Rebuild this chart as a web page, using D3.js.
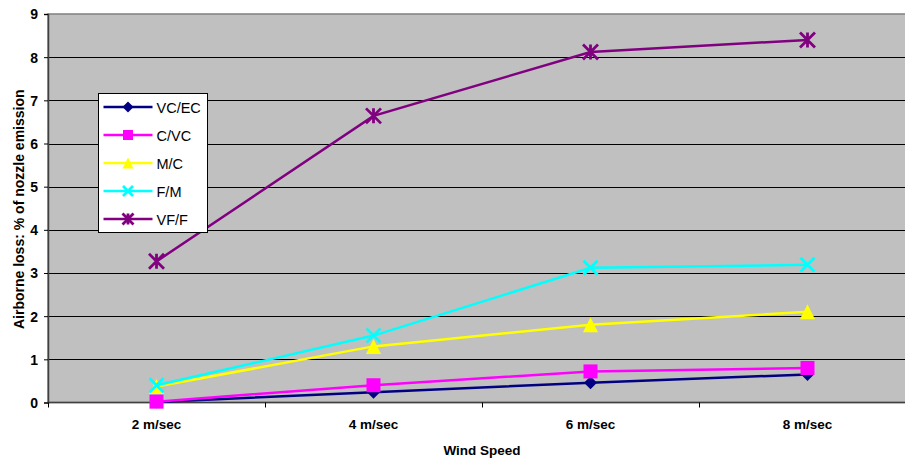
<!DOCTYPE html>
<html>
<head>
<meta charset="utf-8">
<script src="https://cdn.jsdelivr.net/npm/d3@7"></script>
<style>
  html, body { margin: 0; padding: 0; background: #fff; }
  svg { display: block; font-family: Arial, "Liberation Sans", sans-serif; }
</style>
</head>
<body>
<svg id="chart" width="905" height="459"></svg>
<script>
// Wind speed categories and airborne loss (% of nozzle emission) per droplet class
const categories = ["2 m/sec", "4 m/sec", "6 m/sec", "8 m/sec"];
const vcEc = [0.01, 0.24, 0.46, 0.65];
const cVc  = [0.02, 0.40, 0.72, 0.80];
const mC   = [0.37, 1.30, 1.80, 2.10];
const fM   = [0.40, 1.55, 3.12, 3.19];
const vfF  = [3.27, 6.64, 8.12, 8.40];
const yTicks = [0, 1, 2, 3, 4, 5, 6, 7, 8, 9];

const series = [
  { name: "VC/EC", values: vcEc, color: "#000080", marker: "diamond" },
  { name: "C/VC",  values: cVc,  color: "#ff00ff", marker: "square" },
  { name: "M/C",   values: mC,   color: "#ffff00", marker: "triangle" },
  { name: "F/M",   values: fM,   color: "#00ffff", marker: "cross" },
  { name: "VF/F",  values: vfF,  color: "#800080", marker: "star" }
];

const svg = d3.select("#chart");
const plot = { left: 48, right: 916, top: 14, bottom: 402.5 };

const x = d3.scaleBand().domain(categories).range([plot.left, plot.right]).padding(0);
const y = d3.scaleLinear().domain([0, 9]).range([plot.bottom, plot.top]);
const cx = c => x(c) + x.bandwidth() / 2;

// plot background
svg.append("rect")
  .attr("x", plot.left).attr("y", plot.top)
  .attr("width", plot.right - plot.left).attr("height", plot.bottom - plot.top)
  .attr("fill", "#c0c0c0").attr("stroke", "#808080").attr("stroke-width", 1.5);

// horizontal gridlines
svg.append("g").selectAll("line")
  .data(yTicks.filter(t => t > 0 && t < 9))
  .join("line")
  .attr("x1", plot.left).attr("x2", plot.right)
  .attr("y1", d => Math.round(y(d)) + 0.5).attr("y2", d => Math.round(y(d)) + 0.5)
  .attr("stroke", "#000").attr("stroke-width", 1);

// y axis
const yAxis = svg.append("g")
  .attr("transform", `translate(${plot.left},0)`)
  .call(d3.axisLeft(y).tickValues(yTicks).tickSize(4).tickPadding(6).tickFormat(d3.format("d")));
yAxis.attr("font-size", null).attr("font-family", null);
yAxis.select(".domain").attr("stroke", "#404040").attr("stroke-width", 1.5);
yAxis.selectAll(".tick line").attr("stroke", "#000");
yAxis.selectAll("text")
  .style("font-size", "14px").style("font-weight", "bold").attr("fill", "#000")
  .attr("dy", "0.35em");

// x axis: tick marks at category boundaries, labels centred in each band
const xg = svg.append("g");
xg.append("line")
  .attr("x1", plot.left).attr("x2", plot.right)
  .attr("y1", plot.bottom).attr("y2", plot.bottom)
  .attr("stroke", "#404040").attr("stroke-width", 1.5);
const bounds = categories.map(c => x(c)).concat([plot.right]);
xg.selectAll("line.tick").data(bounds).join("line")
  .attr("class", "tick")
  .attr("x1", d => Math.round(d) + 0.5).attr("x2", d => Math.round(d) + 0.5)
  .attr("y1", plot.bottom).attr("y2", plot.bottom + 5)
  .attr("stroke", "#000");
xg.selectAll("text").data(categories).join("text")
  .attr("x", d => cx(d)).attr("y", 429)
  .attr("text-anchor", "middle")
  .style("font-size", "13.5px").style("font-weight", "bold")
  .text(d => d);

// axis titles
svg.append("text")
  .attr("x", (plot.left + plot.right) / 2).attr("y", 455)
  .attr("text-anchor", "middle").style("font-size", "13.5px").style("font-weight", "bold")
  .text("Wind Speed");
svg.append("text")
  .attr("transform", `translate(24,${(plot.top + plot.bottom) / 2 + 1}) rotate(-90)`)
  .attr("text-anchor", "middle").style("font-size", "14px").style("font-weight", "bold")
  .text("Airborne loss: % of nozzle emission");

// marker drawing
function drawMarker(g, type, color, s) {
  const h = s / 2;
  if (type === "diamond") {
    g.append("path").attr("d", `M0,${-h}L${h},0L0,${h}L${-h},0Z`).attr("fill", color);
  } else if (type === "square") {
    g.append("rect").attr("x", -h).attr("y", -h).attr("width", s).attr("height", s).attr("fill", color);
  } else if (type === "triangle") {
    g.append("path").attr("d", `M0,${-h}L${h},${h}L${-h},${h}Z`).attr("fill", color);
  } else if (type === "cross") {
    g.append("path").attr("d", `M${-h},${-h}L${h},${h}M${h},${-h}L${-h},${h}`)
      .attr("stroke", color).attr("stroke-width", 2.8).attr("fill", "none");
  } else if (type === "star") {
    g.append("path").attr("d", `M${-h},${-h}L${h},${h}M${h},${-h}L${-h},${h}M0,${-h}L0,${h}`)
      .attr("stroke", color).attr("stroke-width", 2.8).attr("fill", "none");
  }
}

const markerSize = { diamond: 13, square: 14, triangle: 15, cross: 14, star: 15 };
const line = d3.line().x((d, i) => cx(categories[i])).y(d => y(d));

const clip = svg.append("defs").append("clipPath").attr("id", "plotclip");
clip.append("rect").attr("x", 0).attr("y", 0).attr("width", 905).attr("height", 459);

series.forEach(s => {
  const g = svg.append("g").attr("clip-path", "url(#plotclip)");
  g.append("path").datum(s.values)
    .attr("d", line).attr("fill", "none")
    .attr("stroke", s.color).attr("stroke-width", 2.5);
  s.values.forEach((v, i) => {
    const mg = g.append("g").attr("transform", `translate(${cx(categories[i])},${y(v)})`);
    drawMarker(mg, s.marker, s.color, markerSize[s.marker]);
  });
});

// legend
const legend = svg.append("g").attr("transform", "translate(98.5,93.5)");
legend.append("rect").attr("width", 109).attr("height", 139)
  .attr("fill", "#fff").attr("stroke", "#000").attr("stroke-width", 1);
const legendSize = { diamond: 11, square: 10, triangle: 11, cross: 10, star: 11 };
series.forEach((s, i) => {
  const row = legend.append("g").attr("transform", `translate(0,${13.5 + i * 28})`);
  row.append("line").attr("x1", 5).attr("x2", 54).attr("y1", 0).attr("y2", 0)
    .attr("stroke", s.color).attr("stroke-width", 2.5);
  const mg = row.append("g").attr("transform", "translate(29.5,0)");
  drawMarker(mg, s.marker, s.color, legendSize[s.marker]);
  row.append("text").attr("x", 58).attr("y", 5.5)
    .style("font-size", "14.5px").text(s.name);
});
</script>
</body>
</html>
